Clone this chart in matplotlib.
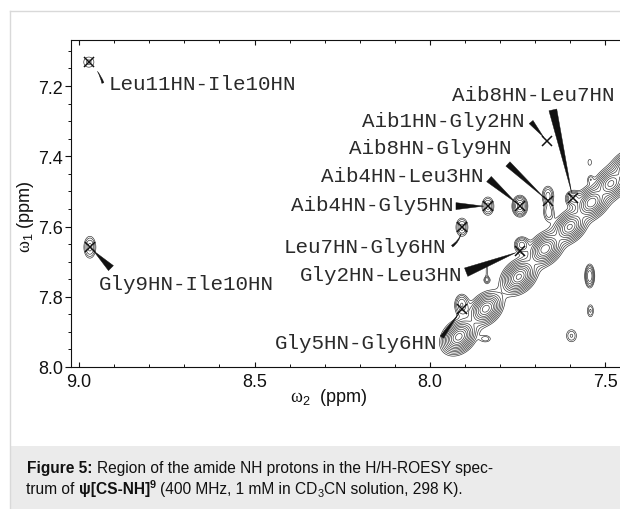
import numpy as np
import matplotlib
matplotlib.use('Agg')
import matplotlib.pyplot as plt
from matplotlib.patches import Rectangle
from matplotlib.lines import Line2D
from matplotlib.ticker import MultipleLocator, FormatStrFormatter

plt.rcParams['font.family'] = ['Liberation Sans', 'DejaVu Sans']
plt.rcParams['mathtext.fontset'] = 'custom'
plt.rcParams['mathtext.rm'] = 'Liberation Sans'
plt.rcParams['mathtext.it'] = 'Liberation Sans:italic'
plt.rcParams['mathtext.bf'] = 'Liberation Sans:bold'
plt.rcParams['mathtext.sf'] = 'Liberation Serif'

# ---------------- data (ppm) ----------------
# diagonal peaks (omega2, omega1), intensity
diag_w2 = [7.918, 7.841, 7.747, 7.672, 7.602, 7.540, 7.485, 7.435]
diag_w1 = [7.914, 7.834, 7.743, 7.664, 7.601, 7.532, 7.478, 7.430]
diag_amp = [30, 22, 28, 24, 20, 24, 20, 24]

# cross peaks (omega2, omega1), intensity, widths
cross_w2 = [8.972, 8.969, 7.835, 7.744, 7.664, 7.662, 7.593, 7.909, 7.739, 7.910,
            7.545, 7.543, 7.597, 7.841, 7.838, 7.838, 7.545, 7.543]
cross_w1 = [7.132, 7.659, 7.542, 7.542, 7.512, 7.560, 7.519, 7.602, 7.652, 7.822,
            7.741, 7.840, 7.911, 7.920, 7.752, 7.725, 7.417, 7.465]
cross_amp = [1.5, 3.0, 3.0, 6.0, 3.0, 2.4, 4.0, 3.0, 4.0, 3.5,
             5.0, 2.0, 2.0, 1.6, 1.8, 1.15, 1.3, 1.3]
cross_sx = [0.016, 0.0115, 0.0115, 0.012, 0.011, 0.010, 0.012, 0.0115, 0.012, 0.012,
            0.008, 0.0072, 0.012, 0.0115, 0.007, 0.003, 0.006, 0.006]
cross_sy = [0.016, 0.021, 0.0175, 0.0165, 0.018, 0.016, 0.012, 0.0175, 0.013, 0.018,
            0.019, 0.0144, 0.0145, 0.0073, 0.007, 0.02, 0.010, 0.008]

# labelled cross peaks
label_texts = ['Leu11HN-Ile10HN', 'Gly9HN-Ile10HN', 'Aib4HN-Gly5HN', 'Aib4HN-Leu3HN',
               'Aib8HN-Gly9HN', 'Aib1HN-Gly2HN', 'Aib8HN-Leu7HN', 'Leu7HN-Gly6HN',
               'Gly2HN-Leu3HN', 'Gly5HN-Gly6HN']
label_w2 = [8.9715, 8.969, 7.835, 7.744, 7.664, 7.667, 7.593, 7.909, 7.744, 7.909]
label_w1 = [7.1316, 7.659, 7.542, 7.542, 7.528, 7.357, 7.519, 7.602, 7.670, 7.835]

x_ticks = [9.0, 8.5, 8.0, 7.5]
y_ticks = [7.2, 7.4, 7.6, 7.8, 8.0]

# ---------------- layout (not data) ----------------
# text anchor (omega2, omega1 baseline), alignment
txt_pos = [(8.917, 7.2085, 'left'), (8.943, 7.778, 'left'), (7.934, 7.553, 'right'),
           (7.849, 7.471, 'right'), (7.769, 7.391, 'right'), (7.732, 7.314, 'right'),
           (7.473, 7.240, 'right'), (7.954, 7.673, 'right'), (7.909, 7.753, 'right'),
           (7.980, 7.946, 'right')]
# wedge tail position, tail width (px), shrink at tip (pt), curvature
wedge = [((8.932, 7.1915), 2.2, 9.0, 0.15),
         ((8.909, 7.7185), 7.0, 3.5, 0.0),
         ((7.926, 7.542), 7.0, 3.0, 0.0),
         ((7.832, 7.465), 7.0, 3.5, 0.0),
         ((7.778, 7.422), 6.0, 3.5, 0.0),
         ((7.712, 7.3026), 5.0, 3.5, 0.0),
         ((7.650, 7.268), 8.0, 4.0, 0.0),
         ((7.937, 7.656), 2.2, 4.5, 0.25),
         ((7.897, 7.730), 9.0, 3.0, 0.0),
         ((7.966, 7.915), 4.0, 3.5, 0.0)]

W, H = 620, 510
fig = plt.figure(figsize=(6.2, 5.1), dpi=100)
fig.patch.set_facecolor('white')

def fx(px):
    return px / W

def fy(py):
    return 1 - py / H

# outer frame and caption box
fig.add_artist(Line2D([fx(10), fx(10)], [fy(12), fy(510)], color='#d9d9d9', lw=1.0,
                      transform=fig.transFigure))
fig.add_artist(Line2D([fx(10), fx(620)], [fy(12), fy(12)], color='#d9d9d9', lw=1.0,
                      transform=fig.transFigure))
fig.add_artist(Rectangle((fx(10.5), 0), fx(620) - fx(10.5), fy(447), transform=fig.transFigure,
                         facecolor='#ebebeb', edgecolor='none'))

ax = fig.add_axes([fx(71), fy(368), fx(632) - fx(71), fy(41) - fy(368)])
ax.set_xlim(9.0228, 7.4245)
ax.set_ylim(8.0, 7.069)

# spectrum surface
xg = np.linspace(7.40, 9.05, 1000)
yg = np.linspace(7.05, 8.02, 640)
X, Y = np.meshgrid(xg, yg)
Z = np.zeros_like(X)
U = (X + Y) / np.sqrt(2)
V = (Y - X) / np.sqrt(2)
su, sv = 0.043, 0.032
for w2, w1, a in zip(diag_w2, diag_w1, diag_amp):
    u0 = (w2 + w1) / np.sqrt(2)
    v0 = (w1 - w2) / np.sqrt(2)
    Z += a / (1 + ((U - u0) / su) ** 2 + ((V - v0) / sv) ** 2) ** 3
for w2, w1, a, sx, sy in zip(cross_w2, cross_w1, cross_amp, cross_sx, cross_sy):
    Z += a * np.exp(-(X - w2) ** 2 / (2 * sx ** 2) - (Y - w1) ** 2 / (2 * sy ** 2))

levels = 1.0 * 1.38 ** np.arange(12)
ax.contour(X, Y, Z, levels=levels, colors='#2a2a2a', linewidths=0.45)

ax.plot(label_w2, label_w1, 'x', ms=6.5, mew=1.1, color='#111111', zorder=5)

for i, lab in enumerate(label_texts):
    tx, ty, ha = txt_pos[i]
    ax.text(tx, ty, lab, ha=ha, va='baseline', fontsize=15, family='Liberation Mono',
            color='#2a2a2a', zorder=6)
    (wx, wy), tw, shr, rad = wedge[i]
    ax.annotate('', xy=(label_w2[i], label_w1[i]), xytext=(wx, wy),
                arrowprops=dict(arrowstyle='wedge,tail_width=%.3f,shrink_factor=0.5' % (tw / 13.89),
                                mutation_scale=10, fc='#111111', ec='#111111', lw=0.3,
                                shrinkA=0, shrinkB=shr,
                                connectionstyle='arc3,rad=%.2f' % rad), zorder=6)

# axes styling
ax.spines['right'].set_visible(False)
for s in ['left', 'top', 'bottom']:
    ax.spines[s].set_linewidth(0.8)
    ax.spines[s].set_color('#111111')
ax.set_xticks(x_ticks)
ax.set_yticks(y_ticks)
ax.xaxis.set_minor_locator(MultipleLocator(0.1))
ax.yaxis.set_minor_locator(MultipleLocator(0.05))
ax.xaxis.set_major_formatter(FormatStrFormatter('%.1f'))
ax.yaxis.set_major_formatter(FormatStrFormatter('%.1f'))
ax.tick_params(axis='x', which='both', direction='in', top=True, bottom=True,
               labelsize=13, pad=4, colors='#111111')
ax.tick_params(axis='x', which='major', length=3.6, width=0.8)
ax.tick_params(axis='x', which='minor', length=2.4, width=0.7)
ax.tick_params(axis='y', which='both', direction='out', left=True, right=False,
               labelsize=13, pad=1.5, colors='#111111')
ax.tick_params(axis='y', which='major', length=4.3, width=0.8)
ax.tick_params(axis='y', which='minor', length=2.2, width=0.7)

# axis labels
fig.text(fx(329), fy(398), r'$\mathsf{\omega}_{2}$  (ppm)', ha='center', va='center',
         fontsize=13, color='#111111')
fig.text(fx(25), fy(217), r'$\mathsf{\omega}_{1}$ (ppm)', ha='center', va='center',
         rotation=90, fontsize=13, color='#111111')

# caption with mixed styles
renderer = fig.canvas.get_renderer()
CS = 11.2
SP = 4.2

def draw_runs(runs, x0, ybase):
    x = x0
    for txt, weight, scale, dy, gap in runs:
        x += gap
        t = fig.text(x / W, fy(ybase - dy), txt, fontsize=CS * scale, fontweight=weight,
                     ha='left', va='baseline', color='#111111')
        bb = t.get_window_extent(renderer)
        x = bb.x1

draw_runs([('Figure 5:', 'bold', 1, 0, 0),
           ('Region of the amide NH protons in the H/H-ROESY spec-', 'normal', 1, 0, SP)],
          27, 473)
draw_runs([('trum of', 'normal', 1, 0, 0),
           ('\u03c8[CS-NH]', 'bold', 1, 0, SP),
           ('9', 'bold', 0.7, 6, 0.3),
           ('(400 MHz, 1 mM in CD', 'normal', 1, 0, SP),
           ('3', 'normal', 0.7, -3, 0.3),
           ('CN solution, 298 K).', 'normal', 1, 0, 0.3)],
          26, 494)

fig.savefig('out.png', dpi=100)
